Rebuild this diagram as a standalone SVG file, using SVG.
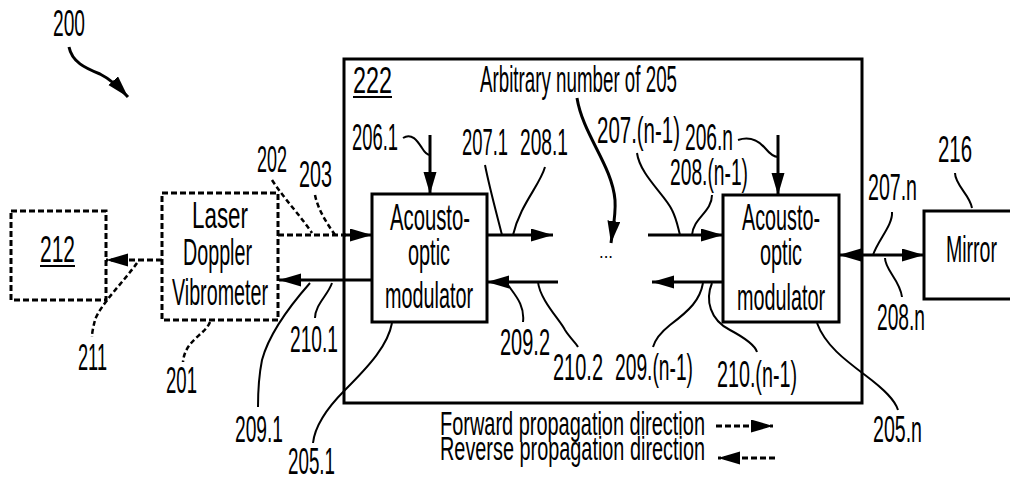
<svg xmlns="http://www.w3.org/2000/svg" width="1010" height="481" viewBox="0 0 1010 481">
<style>
text{font-family:"Liberation Sans Narrow","Liberation Sans",Arial,sans-serif;font-size:36px;fill:#000}
.leg{font-size:33px}
.box{fill:#fff;stroke:#000;stroke-width:3}
.dbox{fill:#fff;stroke:#000;stroke-width:3;stroke-dasharray:6 3}
.ln{fill:none;stroke:#000;stroke-width:3}
.dl{fill:none;stroke:#000;stroke-width:3;stroke-dasharray:6 3}
.ld{fill:none;stroke:#000;stroke-width:2}
.ldd{fill:none;stroke:#000;stroke-width:2.5;stroke-dasharray:5 3}
</style>
<defs>
<marker id="ah" markerUnits="userSpaceOnUse" markerWidth="24" markerHeight="14" refX="22" refY="6.5" orient="auto-start-reverse">
<path d="M0,0 L22,6.5 L0,13 Z" fill="#000"/>
</marker>
</defs>
<g id="label-200">
<text x="53" y="36" textLength="32" lengthAdjust="spacingAndGlyphs">200</text>
</g>
<g id="box-222">
<rect class="box" x="344" y="59" width="518" height="344"/>
<text x="353" y="93" textLength="39" lengthAdjust="spacingAndGlyphs">222</text>
<line x1="353" y1="97" x2="392" y2="97" stroke="#000" stroke-width="2"/>
<text x="480" y="92" textLength="197" lengthAdjust="spacingAndGlyphs">Arbitrary number of 205</text>
<text x="599" y="258" style="font-size:18px" textLength="14" lengthAdjust="spacingAndGlyphs">...</text>
</g>
<g id="node-212">
<rect class="dbox" x="11" y="211" width="95" height="89"/>
<text x="40" y="262" textLength="35" lengthAdjust="spacingAndGlyphs">212</text>
<line x1="40" y1="266" x2="75" y2="266" stroke="#000" stroke-width="2"/>
</g>
<g id="node-ldv">
<rect class="dbox" x="162" y="193" width="116" height="127"/>
<text x="192" y="228" textLength="56" lengthAdjust="spacingAndGlyphs">Laser</text>
<text x="183" y="265" textLength="69" lengthAdjust="spacingAndGlyphs">Doppler</text>
<text x="172" y="305" textLength="96" lengthAdjust="spacingAndGlyphs">Vibrometer</text>
</g>
<g id="node-aom1">
<rect class="box" x="372" y="194" width="115" height="128"/>
<text x="390" y="230" textLength="80" lengthAdjust="spacingAndGlyphs">Acousto-</text>
<text x="408" y="265" textLength="42" lengthAdjust="spacingAndGlyphs">optic</text>
<text x="385" y="308" textLength="88" lengthAdjust="spacingAndGlyphs">modulator</text>
</g>
<g id="node-aomn">
<rect class="box" x="723" y="195" width="116" height="127"/>
<text x="742" y="230" textLength="78" lengthAdjust="spacingAndGlyphs">Acousto-</text>
<text x="760" y="265" textLength="42" lengthAdjust="spacingAndGlyphs">optic</text>
<text x="737" y="310" textLength="88" lengthAdjust="spacingAndGlyphs">modulator</text>
</g>
<g id="node-mirror">
<rect class="box" x="924" y="211" width="92" height="88"/>
<text x="946" y="262" textLength="51" lengthAdjust="spacingAndGlyphs">Mirror</text>
</g>
<g id="connectors">
<path class="ln" d="M69,47 C72,62 85,68 100,74 C110,79 118,86 128,97" marker-end="url(#ah)"/>
<line class="dl" x1="278" y1="235" x2="346" y2="235"/>
<line class="ln" x1="344" y1="235" x2="372" y2="235" marker-end="url(#ah)"/>
<line class="ln" x1="372" y1="280" x2="279" y2="280" marker-end="url(#ah)"/>
<line class="dl" x1="162" y1="260" x2="106" y2="260" marker-end="url(#ah)"/>
<line class="ln" x1="487" y1="235" x2="553" y2="235" marker-end="url(#ah)"/>
<line class="ln" x1="558" y1="282" x2="487" y2="282" marker-end="url(#ah)"/>
<line class="ln" x1="648" y1="235" x2="723" y2="235" marker-end="url(#ah)"/>
<line class="ln" x1="723" y1="282" x2="652" y2="282" marker-end="url(#ah)"/>
<line class="ln" x1="430" y1="135" x2="430" y2="194" marker-end="url(#ah)"/>
<line class="ln" x1="778" y1="135" x2="778" y2="195" marker-end="url(#ah)"/>
<line class="ln" x1="839" y1="255" x2="924" y2="255" marker-start="url(#ah)" marker-end="url(#ah)"/>
<path class="ln" d="M577,98 C583,135 612,165 615,200 C616,215 613,228 611,243" marker-end="url(#ah)"/>
<line class="dl" x1="716" y1="426" x2="773" y2="426" marker-end="url(#ah)"/>
<line class="dl" x1="775" y1="458" x2="718" y2="458" marker-end="url(#ah)"/>
<path class="ldd" d="M272,180 C285,200 300,215 312,233"/>
<path class="ldd" d="M315,195 C318,210 328,225 335,235"/>
<path class="ldd" d="M137,263 C125,280 100,305 95,320 C93,328 92,333 92,337"/>
<path class="ldd" d="M210,322 C205,335 185,340 183,362"/>
<path class="ld" d="M403,138 C412,132 418,142 422,148 C425,153 428,155 430,155"/>
<path class="ld" d="M738,140 C750,136 758,140 765,148 C770,154 775,157 778,157"/>
<path class="ld" d="M485,165 C490,190 497,215 502,235"/>
<path class="ld" d="M545,167 C540,185 520,205 513,235"/>
<path class="ld" d="M637,153 C640,175 665,195 672,210 C677,220 678,228 680,235"/>
<path class="ld" d="M712,195 C712,212 693,218 692,235"/>
<path class="ld" d="M508,285 C515,295 525,305 523,322"/>
<path class="ld" d="M538,282 C540,300 560,320 565,330 C570,338 576,343 578,347"/>
<path class="ld" d="M703,283 C700,300 690,310 670,325 C660,333 655,340 653,347"/>
<path class="ld" d="M712,283 C705,300 710,320 730,330 C745,338 755,345 757,352"/>
<path class="ld" d="M332,283 C328,295 315,305 315,318"/>
<path class="ld" d="M310,283 C295,300 270,330 262,360 C258,380 258,395 258,407"/>
<path class="ld" d="M392,323 C388,345 370,365 345,390 C330,405 315,425 313,443"/>
<path class="ld" d="M817,323 C825,345 845,360 865,375 C885,390 895,400 898,410"/>
<path class="ld" d="M892,212 C893,225 878,240 873,255"/>
<path class="ld" d="M885,258 C885,270 900,280 902,297"/>
<path class="ld" d="M955,173 C955,185 970,195 972,208"/>
</g>
<g id="labels">
<text x="257" y="172" textLength="30" lengthAdjust="spacingAndGlyphs">202</text>
<text x="299" y="187" textLength="33" lengthAdjust="spacingAndGlyphs">203</text>
<text x="78" y="370" textLength="29" lengthAdjust="spacingAndGlyphs">211</text>
<text x="166" y="393" textLength="31" lengthAdjust="spacingAndGlyphs">201</text>
<text x="290" y="352" textLength="48" lengthAdjust="spacingAndGlyphs">210.1</text>
<text x="235" y="442" textLength="48" lengthAdjust="spacingAndGlyphs">209.1</text>
<text x="288" y="474" textLength="47" lengthAdjust="spacingAndGlyphs">205.1</text>
<text x="352" y="150" textLength="46" lengthAdjust="spacingAndGlyphs">206.1</text>
<text x="462" y="155" textLength="46" lengthAdjust="spacingAndGlyphs">207.1</text>
<text x="520" y="155" textLength="48" lengthAdjust="spacingAndGlyphs">208.1</text>
<text x="500" y="355" textLength="50" lengthAdjust="spacingAndGlyphs">209.2</text>
<text x="553" y="380" textLength="50" lengthAdjust="spacingAndGlyphs">210.2</text>
<text x="615" y="380" textLength="78" lengthAdjust="spacingAndGlyphs">209.(n-1)</text>
<text x="717" y="387" textLength="80" lengthAdjust="spacingAndGlyphs">210.(n-1)</text>
<text x="597" y="143" textLength="83" lengthAdjust="spacingAndGlyphs">207.(n-1)</text>
<text x="685" y="150" textLength="48" lengthAdjust="spacingAndGlyphs">206.n</text>
<text x="670" y="185" textLength="78" lengthAdjust="spacingAndGlyphs">208.(n-1)</text>
<text x="868" y="200" textLength="49" lengthAdjust="spacingAndGlyphs">207.n</text>
<text x="877" y="330" textLength="48" lengthAdjust="spacingAndGlyphs">208.n</text>
<text x="938" y="162" textLength="34" lengthAdjust="spacingAndGlyphs">216</text>
<text x="873" y="442" textLength="49" lengthAdjust="spacingAndGlyphs">205.n</text>
</g>
<g id="legend">
<text class="leg" x="440" y="435" textLength="265" lengthAdjust="spacingAndGlyphs">Forward propagation direction</text>
<text class="leg" x="440" y="460" textLength="265" lengthAdjust="spacingAndGlyphs">Reverse propagation direction</text>
</g>
</svg>
